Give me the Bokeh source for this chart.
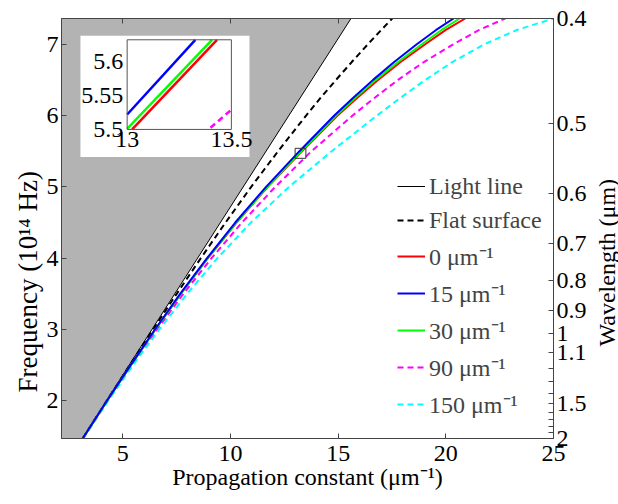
import math
from bokeh.plotting import figure
from bokeh.layouts import row
from bokeh.models import (Range1d, LinearAxis, FixedTicker, CustomJSTickFormatter,
                          Legend, LegendItem, Title)
from bokeh.core.properties import value
from bokeh.embed import file_html
from bokeh.resources import INLINE

FONT = "Liberation Serif"

# ---------------- data ----------------
x_limits = [2.15, 25.0]
y_limits = [1.4715, 7.3605]
x_ticks = [5, 10, 15, 20, 25]
y_ticks = [2, 3, 4, 5, 6, 7]
wl_major = [0.4, 0.5, 0.6, 0.7, 0.8, 0.9, 1.0, 1.1, 1.5, 2.0]
wl_minor = [1.2, 1.3, 1.4, 1.6, 1.7, 1.8, 1.9]
wl_factor = 2.944  # frequency (1e14 Hz) x wavelength (um)

light_f = [1.0, 8.0]
light_k = [2.11, 16.95]

freq = [1.4715, 2.0, 2.5, 3.0, 3.5, 4.0, 4.5, 5.0, 5.5, 6.0, 6.25, 6.5, 6.75, 7.0, 7.2, 7.3605]
k_flat = [3.13, 4.25, 5.32, 6.40, 7.50, 8.62, 9.77, 10.96, 12.21, 13.51, 14.19, 14.90, 15.63, 16.38, 17.00, 17.51]
k_0 = [3.14, 4.27, 5.37, 6.51, 7.69, 8.95, 10.28, 11.73, 13.32, 14.97, 15.89, 16.85, 17.90, 19.04, 20.00, 20.90]
k_15 = [3.135, 4.26, 5.36, 6.49, 7.66, 8.91, 10.22, 11.65, 13.20, 14.82, 15.70, 16.62, 17.60, 18.65, 19.55, 20.36]
k_30 = [3.14, 4.27, 5.37, 6.51, 7.69, 8.94, 10.27, 11.71, 13.29, 14.90, 15.80, 16.75, 17.78, 18.88, 19.80, 20.64]
k_90 = [3.146, 4.29, 5.41, 6.58, 7.81, 9.12, 10.53, 12.08, 13.76, 15.67, 16.70, 17.78, 18.98, 20.35, 21.55, 22.76]
k_150 = [3.158, 4.32, 5.47, 6.69, 7.98, 9.39, 10.95, 12.72, 14.70, 16.80, 17.90, 19.05, 20.30, 21.80, 23.30, 25.0]

legend_labels = ["Light line", "Flat surface", "0 \u03bcm\u207b\u00b9", "15 \u03bcm\u207b\u00b9",
                 "30 \u03bcm\u207b\u00b9", "90 \u03bcm\u207b\u00b9", "150 \u03bcm\u207b\u00b9"]

# zoomed region marker in main axes
zoom_k = [13.0, 13.5]
zoom_f = [5.40, 5.54]

# inset data
inset_xlim = [13.0, 13.5]
inset_ylim = [5.5, 5.632]
inset_xticks = [13.0, 13.5]
inset_xlabels = ["13", "13.5"]
inset_yticks = [5.5, 5.55, 5.6]
inset_ylabels = ["5.5", "5.55", "5.6"]
in_k_0 = [13.024, 13.431]
in_f_0 = [5.5, 5.632]
in_k_15 = [13.0, 13.327]
in_f_15 = [5.522, 5.632]
in_k_30 = [13.0, 13.407]
in_f_30 = [5.501, 5.632]
in_k_90 = [13.40, 13.5]
in_f_90 = [5.5025, 5.529]

# inset placement (in main-axes coordinates)
inset_target_x = (5.199, 10.04)
inset_target_y = (5.805, 7.062)
inset_panel = dict(left=3.03, right=10.88, bottom=5.42, top=7.12)

# side-title placement (pixels)
side_width = 28
wl_title_x = 16
wl_title_y = 211
freq_title_offset = 46

# ---------------- figure ----------------
p = figure(width=618 - side_width, height=504, x_range=Range1d(*x_limits), y_range=Range1d(*y_limits),
           output_backend="svg", toolbar_location=None,
           min_border_left=61, min_border_right=590 - 553, min_border_top=18, min_border_bottom=66)
p.background_fill_color = "white"
p.border_fill_color = "white"
p.grid.visible = False
p.outline_line_color = "#444444"
p.outline_line_width = 1

TICK_FS = "24px"
LABEL_FS = "24px"

def style_axis(ax, standoff):
    ax.major_tick_in = 5
    ax.major_tick_out = 0
    ax.minor_tick_in = 5
    ax.minor_tick_out = 0
    ax.axis_line_color = "#444444"
    ax.major_tick_line_color = "#444444"
    ax.minor_tick_line_color = "#444444"
    ax.major_label_text_font = FONT
    ax.major_label_text_font_size = TICK_FS
    ax.major_label_text_color = "black"
    ax.major_label_standoff = standoff
    ax.axis_label_text_font = FONT
    ax.axis_label_text_font_size = LABEL_FS
    ax.axis_label_text_font_style = "normal"
    ax.axis_label_text_color = "black"

xa = p.xaxis[0]
xa.ticker = FixedTicker(ticks=x_ticks, minor_ticks=[])
xa.axis_label = "Propagation constant (\u03bcm\u207b\u00b9)"
style_axis(xa, 7)
xa.axis_label_standoff = 0

ya = p.yaxis[0]
ya.ticker = FixedTicker(ticks=y_ticks, minor_ticks=[])
style_axis(ya, 3)
p.add_layout(Title(text="Frequency (10\u00b9\u2074 Hz)", align="left", offset=freq_title_offset,
                   standoff=2, text_font=FONT, text_font_size="27px",
                   text_font_style="normal", text_color="black"), "left")

top_ax = LinearAxis(ticker=FixedTicker(ticks=x_ticks, minor_ticks=[]),
                    formatter=CustomJSTickFormatter(code="return ''"))
style_axis(top_ax, 0)
top_ax.major_label_text_font_size = "1px"
p.add_layout(top_ax, "above")

right_ax = LinearAxis(ticker=FixedTicker(ticks=[wl_factor / w for w in wl_major],
                                         minor_ticks=[wl_factor / w for w in wl_minor]),
                      formatter=CustomJSTickFormatter(args=dict(K=wl_factor),
                                                      code="return String(Math.round(K / tick * 10) / 10);"))
style_axis(right_ax, 3)
p.add_layout(right_ax, "right")

# gray region above the light line
gx = [x_limits[0] - 2, light_k[0], light_k[1], x_limits[0] - 2]
gy = [light_f[0], light_f[0], light_f[1], light_f[1]]
p.patch(gx, gy, fill_color="#b3b3b3", line_color=None)

r_light = p.line(light_k, light_f, line_color="black", line_width=1)
r_flat = p.line(k_flat, freq, line_color="black", line_width=2, line_dash="6 4")
r_90 = p.line(k_90, freq, line_color="#ff00ff", line_width=2, line_dash="6 4")
r_150 = p.line(k_150, freq, line_color="#00ffff", line_width=2, line_dash="6 4")
r_0 = p.line(k_0, freq, line_color="#ff0000", line_width=2)
r_30 = p.line(k_30, freq, line_color="#00ff00", line_width=2)
r_15 = p.line(k_15, freq, line_color="#0000ff", line_width=2)

p.quad(left=zoom_k[0], right=zoom_k[1], bottom=zoom_f[0], top=zoom_f[1],
       fill_color=None, line_color="#333333", line_width=1)

# legend
legend = Legend(items=[LegendItem(label=lab, renderers=[r]) for lab, r in
                       zip(legend_labels, [r_light, r_flat, r_0, r_15, r_30, r_90, r_150])],
                location=(336, 18))
legend.label_text_font = FONT
legend.label_text_font_size = LABEL_FS
legend.glyph_width = 28
legend.glyph_height = 30
legend.label_height = 30
legend.spacing = 4
legend.padding = 0
legend.margin = 0
legend.label_standoff = 4
legend.border_line_color = None
legend.background_fill_alpha = 0
p.add_layout(legend)

# inset
p.quad(fill_color="white", line_color=None, **inset_panel)
sub = p.subplot(x_source=Range1d(*inset_xlim), y_source=Range1d(*inset_ylim),
                x_target=Range1d(*inset_target_x), y_target=Range1d(*inset_target_y))
sub.line(in_k_90, in_f_90, line_color="#ff00ff", line_width=2.5, line_dash="6 4")
sub.line(in_k_0, in_f_0, line_color="#ff0000", line_width=2.5)
sub.line(in_k_30, in_f_30, line_color="#00ff00", line_width=2.5)
sub.line(in_k_15, in_f_15, line_color="#0000ff", line_width=2.5)
sub.quad(left=inset_xlim[0], right=inset_xlim[1], bottom=inset_ylim[0], top=inset_ylim[1],
         fill_color=None, line_color="#555555", line_width=1)
sub.text(x=inset_xticks, y=[inset_ylim[0]] * len(inset_xticks), text=inset_xlabels,
         text_align="center", text_baseline="top", y_offset=3,
         text_font=value(FONT), text_font_size=LABEL_FS, text_color="black")
sub.text(x=[inset_xlim[0]] * len(inset_yticks), y=inset_yticks, text=inset_ylabels,
         text_align="right", text_baseline="middle", x_offset=-4,
         text_font=value(FONT), text_font_size=LABEL_FS, text_color="black")

# right-hand strip holding the wavelength title
side = figure(width=side_width, height=504, x_range=Range1d(0, side_width), y_range=Range1d(0, 504),
              output_backend="svg", toolbar_location=None, x_axis_location=None, y_axis_location=None,
              min_border=0)
side.grid.visible = False
side.outline_line_color = None
side.background_fill_color = "white"
side.border_fill_color = "white"
side.text(x=[wl_title_x], y=[wl_title_y], text=["Wavelength (\u03bcm)"], angle=math.pi / 2,
          text_align="center", text_baseline="middle",
          text_font=value(FONT), text_font_size="24px", text_color="black")

layout = row(p, side)
open("out.html", "w").write(file_html(layout, INLINE))
